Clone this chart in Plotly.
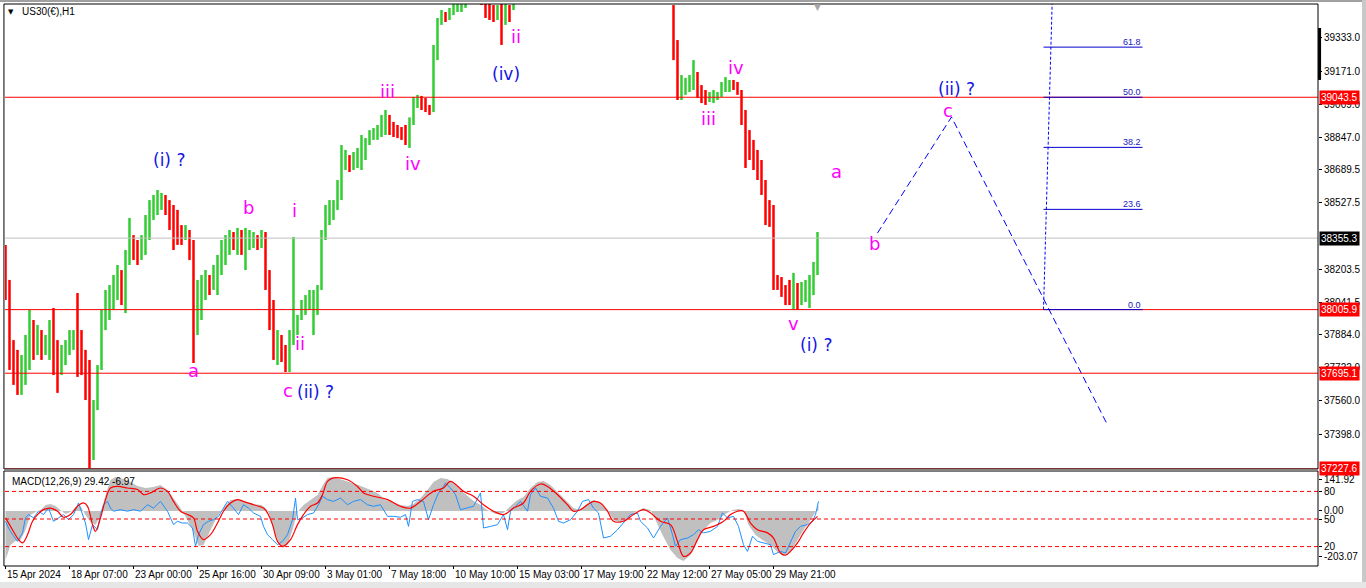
import plotly.graph_objects as go

# ---------------- data ----------------
symbol_title = "US30(€),H1"
macd_title = "MACD(12,26,9) 29.42 -6.97"

bar_step = 4          # one drawn bar per 4 hourly bars
first_open = 38250.0
bar_high = [38322, 38151, 37857, 37809, 37784, 37882, 38004, 37955, 37931, 37906, 37882, 37955, 38014, 37857, 37833, 37857,
            37906, 37906, 38087, 37906, 37809, 37760, 37564, 37735, 38004, 38102, 38126, 38175, 38224, 38199, 38297, 38454,
            38370, 38346, 38370, 38468, 38541, 38566, 38590, 38576, 38566, 38541, 38517, 38493, 38419, 38419, 38395, 38346,
            38151, 38175, 38199, 38175, 38224, 38273, 38346, 38370, 38395, 38385, 38405, 38395, 38405, 38395, 38385, 38370,
            38395, 38385, 38199, 38053, 37906, 37882, 37833, 37906, 38361, 37980, 38053, 38077, 38102, 38102, 38126, 38395,
            38517, 38541, 38541, 38639, 38810, 38786, 38761, 38776, 38796, 38859, 38844, 38883, 38893, 38908, 38957, 38981,
            38957, 38923, 38908, 38898, 38908, 38945, 39045, 39055, 39050, 39040, 39006, 39299, 39431, 39470, 39460, 39480,
            39504, 39519, 39519, 39543, 39592, 39616, 39616, 39568, 39509, 39504, 39494, 39494, 39543, 39568, 39494, 39616,
            39650, 39690, 39720, 39760, 39800, 39830, 39850, 39870, 39900, 39920, 39900, 39880, 39890, 39920, 39950, 39970,
            39980, 39960, 39940, 39920, 39900, 39880, 39860, 39880, 39900, 39910, 39890, 39860, 39830, 39800, 39780, 39760,
            39740, 39720, 39700, 39680, 39660, 39640, 39610,
            39494, 39323, 39152, 39138, 39152, 39225, 39167, 39103, 39079, 39069, 39079, 39069, 39118, 39142, 39128, 39128,
            39118, 39079, 38981, 38883, 38835, 38786, 38737, 38639, 38541, 38517, 38175, 38165, 38126, 38151, 38185, 38136,
            38141, 38151, 38175, 38239, 38385]
bar_low = [38053, 37711, 37638, 37589, 37589, 37638, 37711, 37760, 37784, 37760, 37784, 37760, 37686, 37599, 37686, 37735,
           37784, 37809, 37677, 37686, 37564, 37232, 37271, 37515, 37711, 37906, 37955, 38004, 38053, 38028, 37989, 38224,
           38248, 38224, 38248, 38273, 38346, 38444, 38468, 38493, 38468, 38395, 38297, 38322, 38322, 38346, 38248, 37745,
           37882, 37955, 38053, 38077, 38102, 38077, 38175, 38224, 38273, 38297, 38273, 38273, 38199, 38297, 38307, 38297,
           38307, 38102, 37906, 37760, 37735, 37750, 37701, 37701, 37833, 37882, 37955, 37980, 38004, 37882, 37980, 38102,
           38346, 38419, 38444, 38493, 38541, 38688, 38678, 38688, 38698, 38688, 38737, 38810, 38835, 38835, 38849, 38859,
           38859, 38849, 38844, 38835, 38810, 38796, 38908, 38991, 38981, 38971, 38957, 38971, 39225, 39397, 39411, 39421,
           39445, 39460, 39460, 39480, 39504, 39509, 39519, 39494, 39431, 39421, 39411, 39421, 39299, 39397, 39411, 39470,
           39540, 39580, 39620, 39650, 39690, 39720, 39760, 39780, 39800, 39830, 39810, 39790, 39800, 39830, 39860, 39880,
           39900, 39880, 39860, 39840, 39820, 39800, 39780, 39800, 39820, 39830, 39810, 39780, 39750, 39720, 39700, 39680,
           39660, 39640, 39620, 39600, 39580, 39560, 39520,
           39225, 39030, 39030, 39055, 39069, 39079, 39040, 39015, 39006, 39020, 39015, 39030, 39045, 39069, 39069, 39079,
           39055, 38908, 38698, 38737, 38688, 38639, 38566, 38419, 38410, 38102, 38102, 38068, 38028, 38028, 38004, 38004,
           38028, 38043, 38014, 38077, 38175]
bar_close = [38102, 37760, 37711, 37638, 37686, 37809, 37906, 37833, 37882, 37833, 37857, 37906, 37760, 37711, 37784, 37833,
             37857, 37882, 37857, 37760, 37613, 37369, 37515, 37711, 37955, 38053, 38053, 38102, 38151, 38102, 38248, 38346,
             38322, 38297, 38322, 38419, 38493, 38517, 38541, 38541, 38517, 38468, 38395, 38395, 38370, 38385, 38297, 37906,
             38053, 38126, 38151, 38126, 38151, 38175, 38297, 38322, 38346, 38336, 38346, 38322, 38346, 38346, 38346, 38336,
             38346, 38151, 37955, 37809, 37833, 37809, 37735, 37857, 37955, 37955, 38028, 38053, 38053, 38053, 38102, 38346,
             38468, 38493, 38517, 38615, 38737, 38737, 38712, 38737, 38761, 38786, 38810, 38859, 38859, 38883, 38908, 38932,
             38883, 38883, 38874, 38869, 38859, 38932, 39030, 39030, 39015, 38991, 38981, 39250, 39397, 39445, 39441, 39460,
             39480, 39494, 39494, 39519, 39543, 39568, 39568, 39529, 39470, 39460, 39450, 39470, 39372, 39445, 39431, 39568,
             39600, 39660, 39690, 39720, 39770, 39800, 39820, 39840, 39870, 39880, 39850, 39830, 39860, 39890, 39920, 39940,
             39950, 39920, 39900, 39880, 39860, 39840, 39820, 39850, 39870, 39880, 39850, 39820, 39790, 39760, 39740, 39720,
             39700, 39680, 39660, 39640, 39620, 39600, 39560,
             39323, 39079, 39089, 39103, 39128, 39152, 39079, 39055, 39040, 39050, 39055, 39055, 39089, 39103, 39103, 39098,
             39079, 38957, 38883, 38786, 38747, 38712, 38615, 38493, 38468, 38151, 38141, 38102, 38077, 38053, 38102, 38053,
             38077, 38102, 38126, 38199, 38355.3]

date_labels = ["15 Apr 2024", "18 Apr 07:00", "23 Apr 00:00", "25 Apr 16:00", "30 Apr 09:00", "3 May 01:00",
               "7 May 18:00", "10 May 10:00", "15 May 03:00", "17 May 19:00", "22 May 12:00", "27 May 05:00",
               "29 May 21:00"]
date_label_bars = [0, 64, 128, 192, 256, 320, 384, 448, 512, 576, 640, 704, 768]

price_ticks = [39333.0, 39171.0, 39009.0, 38847.0, 38689.5, 38527.5, 38203.5, 38041.5,
               37884.0, 37722.0, 37560.0, 37398.0]
red_levels = [39043.5, 38005.9, 37695.1, 37227.6]
bid_price = 38355.3

fib_low = 38005.9
fib_high = 40081.1
fib_ratios = [0.0, 23.6, 38.2, 50.0, 61.8]
fib_bar_start = 1038
fib_bar_end = 1137
fib_trend_bars = [1038, 1050]

proj_bars = [872, 946, 1101]
proj_prices = [38380, 38947, 37452]

wave_text = ["(i) ?", "a", "b", "i", "ii", "c", "(ii) ?", "iii", "iv", "(iv)", "ii",
             "iii", "iv", "v", "(i) ?", "a", "b", "c", "(ii) ?"]
wave_bar = [163, 188, 243, 289, 294, 282, 310, 382, 407, 500, 510,
            703, 730, 788, 810, 831, 869, 942, 951]
wave_price = [38737, 37706, 38507, 38488, 37838, 37613, 37603, 39074, 38722, 39157, 39338,
              38942, 39191, 37936, 37833, 38683, 38327, 38981, 39084]
wave_is_blue = [1, 0, 0, 0, 0, 0, 1, 0, 0, 1, 0,
                0, 0, 0, 1, 0, 0, 0, 1]

hist_idx = [0, 5, 10, 15, 20, 25, 30, 35, 40, 45, 50, 55, 60, 65, 70, 75, 80, 85, 90, 95,
            100, 105, 110, 118, 125, 132, 140, 148, 155, 162, 168, 175, 182, 188, 193, 198, 205, 212, 218, 225,
            232, 240, 248, 256, 262, 267, 272, 277, 282, 287, 292, 298, 305, 312, 318, 322, 328, 335, 342, 350,
            358, 365, 372, 380, 388, 395, 402, 408, 415, 422, 428, 435, 442, 448, 455, 462, 468, 475, 482, 490,
            498, 505, 512, 518, 525, 532, 538, 545, 552, 560, 568, 575, 582, 588, 595, 602, 608, 615, 622, 630,
            638, 645, 650, 657, 665, 672, 678, 685, 692, 698, 705, 712, 720, 727, 733, 738, 743, 750, 757, 765,
            772, 778, 785, 792, 798, 805, 810, 813]
hist_val = [-219, -152, -134, -130, -85, -18, -4, 4, 27, 31, 22, 4, -13, -4, 13, 22, -18, -49, -63, -18,
            72, 139, 152, 143, 130, 112, 103, 107, 116, 94, 58, 13, -40, -94, -157, -152, -85, -22, 13, 49,
            54, 40, 31, 27, 4, -63, -130, -166, -152, -85, -4, 27, 49, 72, 121, 148, 152, 143, 134, 121,
            107, 94, 81, 49, 36, 27, 22, 31, 58, 94, 130, 148, 143, 125, 94, 67, 45, 27, 4, -13,
            -9, 22, 49, 63, 103, 130, 134, 116, 85, 49, 13, 4, 36, 49, 36, 4, -40, -54, -31, -4,
            13, 4, -40, -107, -175, -210, -224, -197, -130, -85, -54, -40, -13, 4, 9, 4, -63, -107, -130, -152,
            -184, -201, -184, -130, -85, -40, -4, 27]

sig_idx = [0, 5, 12, 17, 22, 27, 32, 38, 45, 52, 58, 65, 72, 78, 82, 87, 90, 95, 100, 105,
           112, 122, 132, 138, 145, 155, 162, 168, 175, 182, 188, 192, 198, 205, 212, 218, 225, 232, 238, 248,
           258, 262, 267, 272, 277, 285, 292, 298, 305, 312, 317, 322, 328, 342, 352, 358, 368, 382, 395, 405,
           415, 428, 438, 445, 458, 468, 478, 488, 498, 508, 518, 525, 535, 542, 552, 562, 568, 575, 582, 588,
           595, 602, 608, 618, 628, 638, 645, 655, 665, 672, 678, 685, 692, 698, 708, 718, 725, 732, 738, 745,
           752, 762, 768, 775, 780, 785, 792, 798, 805, 812]
sig_val = [-31, -69, -121, -143, -106, -46, -16, 6, 13, -1, -28, -16, 21, 36, 21, -61, -91, -31, 51, 103,
           110, 103, 96, 73, 81, 103, 88, 43, -1, -16, -31, -91, -128, -106, -54, -1, 36, 51, 43, 28,
           13, -9, -61, -136, -158, -128, -61, -16, 21, 36, 73, 133, 148, 140, 110, 81, 66, 51, 21, 13,
           43, 88, 103, 133, 88, 66, 28, -1, -16, 13, 36, 88, 121, 110, 73, 28, -1, 6, 28, 43,
           36, -1, -46, -46, -16, 6, -9, -46, -61, -136, -203, -188, -128, -84, -69, -46, -16, -1, -1, -54,
           -84, -98, -121, -188, -198, -181, -143, -98, -54, -24]

blue_idx = [0, 3, 7, 12, 17, 20, 23, 28, 33, 38, 43, 48, 53, 58, 63, 68, 73, 77, 80, 83,
            87, 92, 95, 98, 102, 105, 108, 115, 122, 128, 135, 142, 148, 155, 162, 165, 168, 172, 177, 182,
            187, 190, 193, 198, 203, 208, 213, 217, 222, 228, 233, 238, 243, 248, 255, 258, 262, 267, 272, 277,
            282, 287, 290, 292, 297, 302, 308, 313, 317, 322, 328, 335, 342, 348, 355, 362, 368, 375, 382, 388,
            395, 400, 403, 407, 412, 418, 423, 428, 433, 438, 440, 445, 450, 455, 462, 468, 475, 478, 485, 492,
            498, 502, 505, 510, 515, 522, 525, 530, 535, 542, 548, 553, 558, 565, 572, 577, 583, 588, 593, 598,
            605, 612, 618, 625, 632, 635, 642, 648, 655, 662, 667, 670, 675, 682, 688, 693, 698, 705, 712, 717,
            722, 728, 733, 738, 742, 747, 752, 758, 765, 768, 775, 780, 785, 790, 795, 802, 807, 810, 813]
blue_val = [-46, -76, -106, -136, -98, -31, -16, -31, -1, -16, 13, -46, -31, -16, -39, -16, 36, -16, -54, -128,
            -61, -84, -16, 28, 43, 13, -1, 6, -1, 6, -1, 28, 13, 43, -1, -31, -61, -46, -54, -54,
            -76, -158, -106, -61, -46, -39, -24, 6, 43, 13, -16, 28, 13, -9, -24, -69, -106, -128, -151, -136,
            -106, -39, 58, -39, -31, -16, -9, 28, 66, 51, 43, 58, 28, 43, 51, 28, 21, 28, -24, -24,
            -28, -16, -69, 43, 51, 43, -39, 28, 81, 110, 125, 103, 73, 6, 13, 21, 81, -76, -69, -61,
            -16, -84, -1, 21, 43, -1, 73, 103, 66, 58, 13, -46, -54, -39, -1, 43, 51, 13, -9, -121,
            -113, -84, -54, -16, -9, -46, -76, -121, -69, -31, -106, -158, -128, -121, -106, -84, -98, -91, -69, -9,
            -31, -24, -69, -151, -181, -113, -136, -143, -151, -195, -181, -188, -136, -91, -69, -61, -46, -16, 43]

macd_ticks = [141.92, 0.00, -203.07]
level_ticks = [80, 50, 20]

# ---------------- derived ----------------
bar_index = list(range(0, bar_step * len(bar_close), bar_step))
bar_open = [first_open] + bar_close[:-1]

MAGENTA = "#FF00FF"
BLUE = "#1414E6"
AXFONT = dict(family="Liberation Sans, Arial, sans-serif", size=10, color="black")

fig = go.Figure()

fig.add_trace(go.Ohlc(
    x=bar_index, open=bar_open, high=bar_high, low=bar_low, close=bar_close,
    increasing=dict(line=dict(color="#32CD32", width=2.5)),
    decreasing=dict(line=dict(color="#FF0000", width=2.5)),
    tickwidth=0, xaxis="x", yaxis="y", hoverinfo="skip"))

# wave projection
fig.add_trace(go.Scatter(x=proj_bars, y=proj_prices, mode="lines", yaxis="y",
                         line=dict(color="#0000FF", width=1, dash="7px,4px"), hoverinfo="skip"))
# fib trend line
fig.add_trace(go.Scatter(x=fib_trend_bars, y=[fib_low, fib_high], mode="lines", yaxis="y",
                         line=dict(color="#0000FF", width=1, dash="3px,2px"), hoverinfo="skip"))

# MACD panel
fig.add_trace(go.Scatter(x=hist_idx, y=hist_val, mode="lines", yaxis="y2", fill="tozeroy",
                         fillcolor="#C0C0C0", line=dict(width=0, color="#C0C0C0"), hoverinfo="skip"))
fig.add_trace(go.Scatter(x=blue_idx, y=blue_val, mode="lines", yaxis="y2",
                         line=dict(color="#1E90FF", width=1), hoverinfo="skip"))
fig.add_trace(go.Scatter(x=sig_idx, y=sig_val, mode="lines", yaxis="y2", line_shape="spline",
                         line=dict(color="#FF0000", width=1.2), hoverinfo="skip"))

shapes = []
for lv in red_levels:
    shapes.append(dict(type="line", xref="paper", x0=0, x1=1, yref="y", y0=lv, y1=lv,
                       line=dict(color="#FF0000", width=1)))
shapes.append(dict(type="line", xref="paper", x0=0, x1=1, yref="y", y0=bid_price, y1=bid_price,
                   line=dict(color="#C0C0C0", width=1)))
for r in fib_ratios:
    p = fib_low + r / 100.0 * (fib_high - fib_low)
    shapes.append(dict(type="line", xref="x", x0=fib_bar_start, x1=fib_bar_end, yref="y", y0=p, y1=p,
                       line=dict(color="#0000CD", width=1)))
for lv in level_ticks:
    shapes.append(dict(type="line", xref="paper", x0=0, x1=1, yref="y3", y0=lv, y1=lv,
                       line=dict(color="#FF0000", width=1, dash="4px,3px")))
# frames
shapes.append(dict(type="rect", xref="paper", yref="paper", x0=-0.0008, x1=1.0, y0=0.1726, y1=1.0,
                   line=dict(color="black", width=1)))
shapes.append(dict(type="rect", xref="paper", yref="paper", x0=-0.0008, x1=1.0, y0=0.0, y1=0.169,
                   line=dict(color="black", width=1)))
# scale marker on the price axis
shapes.append(dict(type="line", xref="paper", x0=1.0012, x1=1.0012, yref="y", y0=39382, y1=39128,
                   line=dict(color="black", width=3)))
# window edges
shapes.append(dict(type="rect", xref="paper", yref="paper", x0=-0.01, x1=1.04, y0=1.0036, y1=1.0075,
                   line=dict(width=0), fillcolor="#A0A0A0"))
shapes.append(dict(type="rect", xref="paper", yref="paper", x0=1.0335, x1=1.04, y0=-0.05, y1=1.01,
                   line=dict(width=0), fillcolor="#C8C8C8"))
shapes.append(dict(type="rect", xref="paper", yref="paper", x0=-0.01, x1=1.04, y0=-0.04, y1=-0.0285,
                   line=dict(width=0), fillcolor="#E6E6E6"))

annotations = []
# title
annotations.append(dict(xref="paper", yref="paper", x=0.0046, y=0.9858, text="▼", showarrow=False,
                        font=dict(family="DejaVu Sans", size=7, color="black"), xanchor="center", yanchor="middle"))
annotations.append(dict(xref="paper", yref="paper", x=0.0115, y=0.9858, text=symbol_title, showarrow=False,
                        font=AXFONT, xanchor="left", yanchor="middle"))
annotations.append(dict(xref="paper", yref="paper", x=0.0035, y=0.1512, text=macd_title, showarrow=False,
                        font=AXFONT, xanchor="left", yanchor="middle"))
annotations.append(dict(xref="x", yref="paper", x=812, y=0.9950, text="▼", showarrow=False,
                        font=dict(family="DejaVu Sans", size=9, color="#A8A8A8"), xanchor="center", yanchor="middle"))
# date labels
for b, t in zip(date_label_bars, date_labels):
    annotations.append(dict(xref="x", yref="paper", x=b, y=-0.016, text=t, showarrow=False,
                            font=AXFONT, xanchor="left", yanchor="middle", xshift=-1))
# price boxes
for lv in red_levels:
    annotations.append(dict(xref="paper", yref="y", x=1.0, y=lv, text=f"{lv:.1f}", showarrow=False,
                            xanchor="left", yanchor="middle", xshift=1, bgcolor="#FF0000", borderpad=1,
                            font=dict(family="Liberation Sans, Arial", size=10, color="white")))
annotations.append(dict(xref="paper", yref="y", x=1.0, y=bid_price, text=f"{bid_price:.1f}", showarrow=False,
                        xanchor="left", yanchor="middle", xshift=1, bgcolor="black", borderpad=1,
                        font=dict(family="Liberation Sans, Arial", size=10, color="white")))
# fib labels
for r in fib_ratios:
    p = fib_low + r / 100.0 * (fib_high - fib_low)
    annotations.append(dict(xref="x", yref="y", x=fib_bar_end, y=p, text=f"{r:.1f}", showarrow=False,
                            xanchor="right", yanchor="bottom", yshift=-2,
                            font=dict(family="Liberation Sans, Arial", size=9, color="#2020C0")))
# wave labels
for t, b, p, isb in zip(wave_text, wave_bar, wave_price, wave_is_blue):
    annotations.append(dict(xref="x", yref="y", x=b, y=p, text=t, showarrow=False,
                            xanchor="center", yanchor="middle",
                            font=dict(family="DejaVu Sans", size=17 if isb else 18,
                                      color=BLUE if isb else MAGENTA)))

fig.update_layout(
    width=1366, height=588,
    margin=dict(l=5, r=48, t=4, b=22),
    paper_bgcolor="white", plot_bgcolor="white",
    showlegend=False, hovermode=False,
    shapes=shapes, annotations=annotations,
    xaxis=dict(domain=[0, 1], anchor="y2", range=[-0.5, 1312.5], showgrid=False, zeroline=False,
               showline=False, ticks="outside", ticklen=3, tickcolor="black",
               tickvals=date_label_bars, showticklabels=False, rangeslider=dict(visible=False)),
    yaxis=dict(domain=[0.1726, 1.0], range=[37227.1, 39499.1], side="right", anchor="x",
               showgrid=False, zeroline=False, showline=False, ticks="outside", ticklen=3,
               tickcolor="black", tickvals=price_ticks, ticktext=[f"{v:.1f}" for v in price_ticks],
               tickfont=AXFONT),
    yaxis2=dict(domain=[0.00178, 0.16548], range=[-241.8, 170.1], side="right", anchor="x",
                showgrid=False, zeroline=False, showline=False, ticks="outside", ticklen=3,
                tickcolor="black", tickvals=macd_ticks, ticktext=[f"{v:.2f}" for v in macd_ticks],
                tickfont=AXFONT),
    yaxis3=dict(overlaying="y2", range=[0, 100], side="right", anchor="x",
                showgrid=False, zeroline=False, showline=False, ticks="outside", ticklen=3,
                tickcolor="black", tickvals=level_ticks, ticktext=[str(v) for v in level_ticks],
                tickfont=AXFONT),
)

fig.write_html("out.html", config={"displayModeBar": False},
               post_script="document.body.style.margin='0';document.body.style.overflow='hidden';")
